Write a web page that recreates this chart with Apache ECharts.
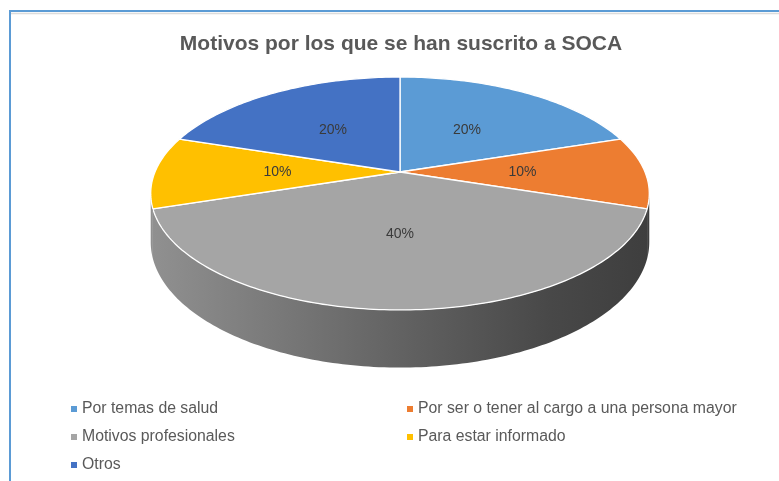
<!DOCTYPE html>
<html>
<head>
<meta charset="utf-8">
<script src="https://cdn.jsdelivr.net/npm/echarts@6/dist/echarts.min.js"></script>
<style>
html, body { margin: 0; padding: 0; background: #fff; }
#main { width: 779px; height: 481px; }
</style>
</head>
<body>
<div id="main"></div>
<script>
// data
const categories = [
  'Por temas de salud',
  'Por ser o tener al cargo a una persona mayor',
  'Motivos profesionales',
  'Para estar informado',
  'Otros'
];
const values = [20, 10, 40, 10, 20];
const colors = ['#5b9bd5', '#ed7d31', '#a5a5a5', '#ffc000', '#4472c4'];

// 3d pie look, screen px
const cx = 400, cy = 172, rx = 245, ry = 112.5, persp = 0.1845, depth = 47;
const total = values.reduce((a, b) => a + b, 0);
const starts = [];
let acc = 0;
values.forEach(v => { starts.push(acc / total * 360); acc += v; });

function proj(deg, r, down) {
  const t = deg * Math.PI / 180;
  const u = r * Math.sin(t), w = -r * Math.cos(t);
  const f = 1 / (1 - persp * w);
  return [cx + rx * u * f, cy + ry * w * f + (down ? depth * f : 0)];
}
function arc(a, b, r, down) {
  const pts = [];
  const n = Math.max(2, Math.ceil(Math.abs(b - a)));
  for (let i = 0; i <= n; i++) pts.push(proj(a + (b - a) * i / n, r, down));
  return pts;
}
const frontL = Math.acos(-persp) * 180 / Math.PI, frontR = 360 - frontL;

// side wall shading (same for every slice, only the grey one really shows)
const wallFill = { type: 'linear', x: 153, y: 0, x2: 650, y2: 0, global: true,
  colorStops: [{ offset: 0, color: '#909090' }, { offset: 0.5, color: '#626262' },
               { offset: 0.8, color: '#484848' }, { offset: 1, color: '#3e3e3e' }] };

function makeRender(i) {
  return function (params, api) {
    const a = starts[i], b = a + api.value(0) / total * 360;
    const children = [];
    const lo = Math.max(a, frontL), hi = Math.min(b, frontR);
    if (hi > lo) {
      const pts = arc(lo, hi, 1, false).concat(arc(hi, lo, 1, true));
      children.push({ type: 'polygon', shape: { points: pts },
        style: { fill: wallFill, stroke: null } });
    }
    const top = [[cx, cy]].concat(arc(a, b, 1, false));
    children.push({ type: 'polygon', shape: { points: top },
      style: { fill: colors[i], stroke: '#ffffff', lineWidth: 1.3, lineJoin: 'round' } });
    const lp = proj((a + b) / 2, 0.5, false);
    children.push({ type: 'text', x: lp[0], y: lp[1],
      style: { text: Math.round(api.value(0) / total * 100) + '%', fill: '#3a3a3a',
        font: '14px "Liberation Sans", Arial, sans-serif', align: 'center', verticalAlign: 'middle' } });
    return { type: 'group', children: children };
  };
}

const chart = echarts.init(document.getElementById('main'), null, { renderer: 'canvas' });

const legendText = { color: '#595959', fontSize: 15.8, fontFamily: '"Liberation Sans", Arial, sans-serif' };

chart.setOption({
  backgroundColor: '#ffffff',
  animation: false,
  title: {
    text: 'Motivos por los que se han suscrito a SOCA',
    left: 396, top: 29, textAlign: 'center',
    textStyle: { color: '#595959', fontSize: 21, fontWeight: 'bold', fontFamily: '"Liberation Sans", Arial, sans-serif' }
  },
  legend: [
    { orient: 'vertical', left: 66, top: 396, itemWidth: 6, itemHeight: 6, itemGap: 12, icon: 'rect',
      data: [categories[0], categories[2], categories[4]], textStyle: legendText, selectedMode: false },
    { orient: 'vertical', left: 402, top: 396, itemWidth: 6, itemHeight: 6, itemGap: 12, icon: 'rect',
      data: [categories[1], categories[3]], textStyle: legendText, selectedMode: false }
  ],
  graphic: [
    { type: 'rect', shape: { x: 10, y: 11, width: 820, height: 520 }, z: 100,
      style: { fill: null, stroke: '#5b9bd5', lineWidth: 2 } },
    { type: 'line', shape: { x1: 11, y1: 13.5, x2: 779, y2: 13.5 }, z: 99,
      style: { stroke: '#dcdcdc', lineWidth: 1.5 } }
  ],
  series: categories.map((name, i) => ({
    type: 'custom',
    name: name,
    coordinateSystem: 'none',
    itemStyle: { color: colors[i] },
    renderItem: makeRender(i),
    data: [[values[i]]]
  }))
});
</script>
</body>
</html>
